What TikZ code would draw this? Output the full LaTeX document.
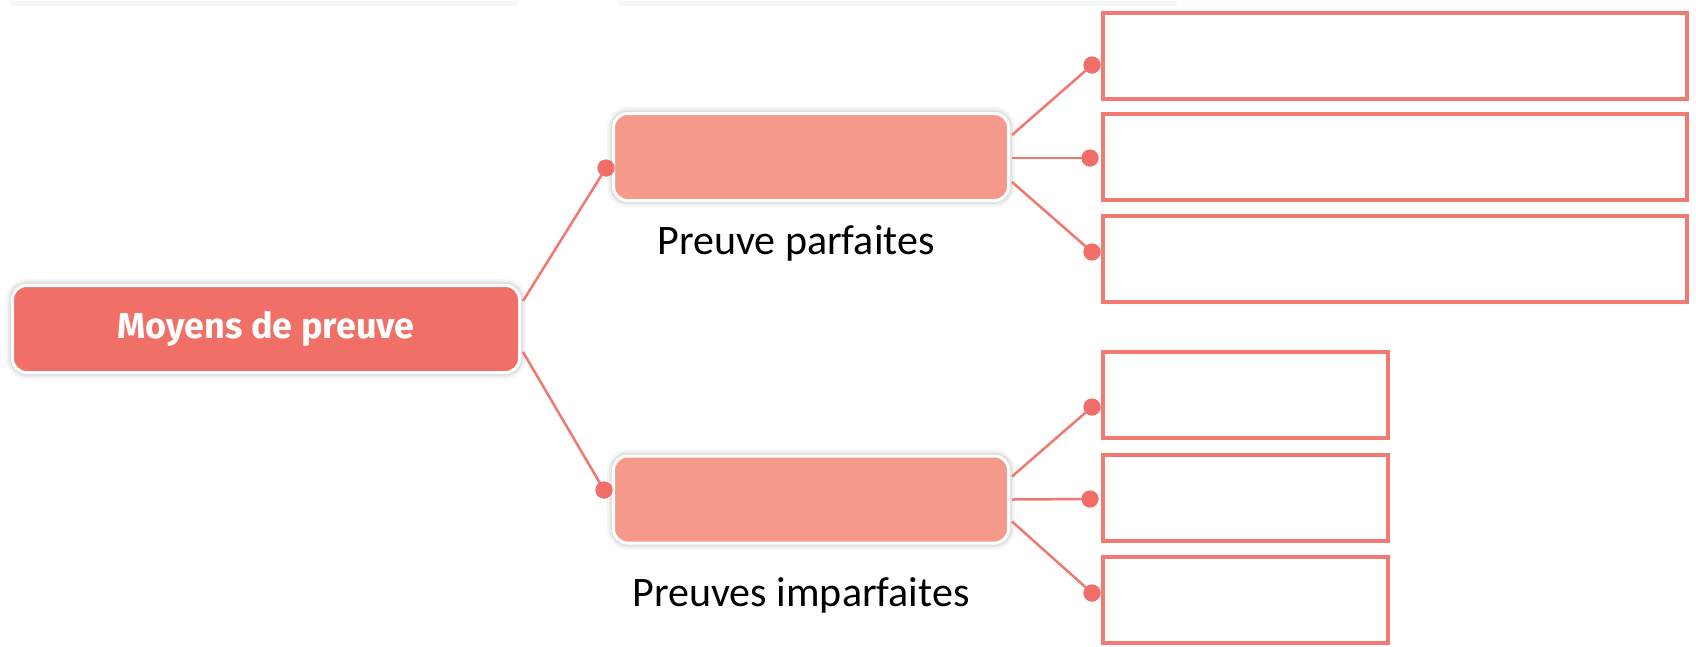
\documentclass[tikz,border=0pt]{standalone}
\usepackage{fontspec}
\setmainfont{Carlito}
\newfontfamily\headfont{Fira Sans}

\definecolor{linkred}{HTML}{F0786E}
\definecolor{dotred}{HTML}{F06E67}
\definecolor{rootfill}{HTML}{F06F66}
\definecolor{midfill}{HTML}{F59A8B}
\definecolor{boxline}{HTML}{F27A72}
\definecolor{faint}{HTML}{F6F6F6}

\tikzset{
  % soft halo built from stacked translucent strokes
  halo/.style={
    preaction={draw=black, draw opacity=0.035, line width=13pt},
    preaction={draw=black, draw opacity=0.04, line width=9pt},
    preaction={draw=black, draw opacity=0.05, line width=6pt}},
  rootbox/.style={draw=white, line width=3pt, fill=rootfill, rounded corners=14pt,
    minimum width=507pt, minimum height=87pt, inner sep=0pt, halo,
    text=white, font=\headfont\bfseries\fontsize{36}{42}\selectfont},
  midbox/.style={draw=white, line width=3pt, fill=midfill, rounded corners=14pt,
    minimum width=395pt, minimum height=87pt, inner sep=0pt, halo},
  answerbox/.style={draw=boxline, line width=4pt, fill=white, inner sep=0pt,
    minimum height=86pt},
  widebox/.style={answerbox, minimum width=584pt},
  narrowbox/.style={answerbox, minimum width=285pt},
  caption/.style={font=\fontsize{42}{50}\selectfont, text=black, inner sep=0pt},
  knob/.style={circle, fill=dotred, minimum size=17pt, inner sep=0pt},
  link/.style={draw=linkred, line width=2.5pt},
}

\begin{document}
\begin{tikzpicture}[x=1pt, y=-1pt]
\useasboundingbox[fill=white] (0,0) rectangle (1696,646);

% cut-off shadows along the top edge
\fill[faint] (11,1) rectangle (517,6);
\fill[faint] (619,1) rectangle (1177,6);

% root and second-level boxes
\node[rootbox] (root) at (266,329) {Moyens de preuve};
\node[midbox] (perfect) at (811,157) {};
\node[midbox] (imperfect) at (811,499.5) {};
\node[caption] (perfectlabel) at (796,243) {Preuve parfaites};
\node[caption] (imperfectlabel) at (801,595) {Preuves imparfaites};

% answer boxes
\node[widebox] (pa) at (1395,56) {};
\node[widebox] (pb) at (1395,157) {};
\node[widebox] (pc) at (1395,259) {};
\node[narrowbox] (ia) at (1245.5,395) {};
\node[narrowbox] (ib) at (1245.5,497.5) {};
\node[narrowbox] (ic) at (1245.5,600) {};

% connection knobs
\node[knob] (kperfect) at (606,168) {};
\node[knob] (kimperfect) at (604,490) {};
\node[knob] (kpa) at (1092,65) {};
\node[knob] (kpb) at (1090,158) {};
\node[knob] (kpc) at (1092,252) {};
\node[knob] (kia) at (1092,407) {};
\node[knob] (kib) at (1090,499) {};
\node[knob] (kic) at (1092,593) {};

% connectors
\path[link] ([xshift=2pt,yshift=28pt]root.east) -- (kperfect.center);
\path[link] ([xshift=2pt,yshift=-23pt]root.east) -- (kimperfect.center);

\path[link] ([xshift=2pt,yshift=22pt]perfect.east) -- (kpa.center);
\path[link] ([xshift=2pt,yshift=-1pt]perfect.east) -- (kpb.center);
\path[link] ([xshift=2pt,yshift=-25pt]perfect.east) -- (kpc.center);

\path[link] ([xshift=2pt,yshift=23pt]imperfect.east) -- (kia.center);
\path[link] ([xshift=2pt,yshift=0pt]imperfect.east) -- (kib.center);
\path[link] ([xshift=2pt,yshift=-22pt]imperfect.east) -- (kic.center);

% knobs on top of the connectors
\foreach \k in {kperfect, kimperfect, kpa, kpb, kpc, kia, kib, kic}
  \fill[dotred] (\k.center) circle (8.5pt);
\end{tikzpicture}
\end{document}
